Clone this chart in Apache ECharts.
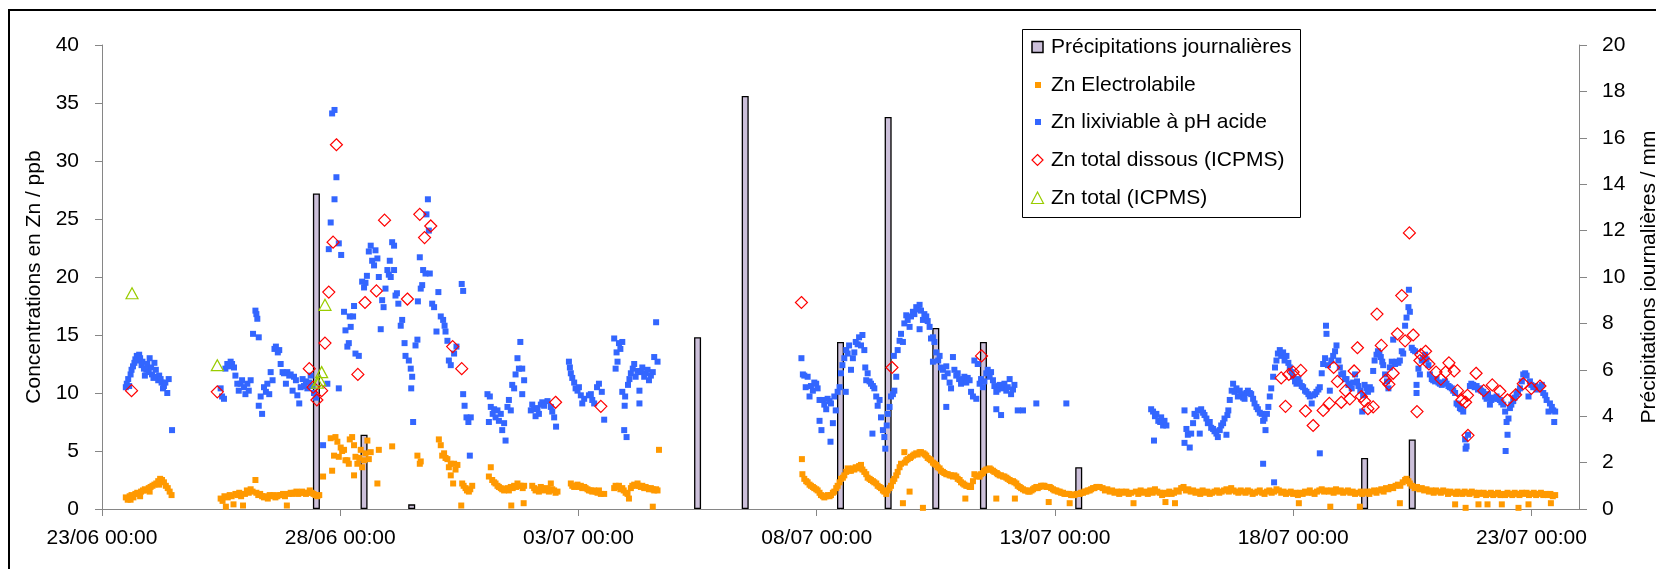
<!DOCTYPE html>
<html>
<head>
    <meta charset="utf-8">
    <title>Zn</title>
    <script src="https://cdn.jsdelivr.net/npm/echarts/dist/echarts.min.js"></script>
    <style>
        html, body { margin: 0; padding: 0; background: #fff; }
        #main { width: 1656px; height: 569px; }
    </style>
</head>
<body>
<div id="main"></div>
<script>
    // x = jours depuis le 23/06 00:00
    var xTickLabels = ['23/06 00:00', '28/06 00:00', '03/07 00:00', '08/07 00:00',
        '13/07 00:00', '18/07 00:00', '23/07 00:00'];

    // précipitations journalières (mm), barre centrée à midi
    var precipDays = [4.5, 5.5, 6.5, 12.5, 13.5, 15.5, 16.5, 17.5, 18.5, 20.5, 26.5, 27.5];
    var precipMm = [13.6, 3.2, 0.2, 7.4, 17.8, 7.2, 16.9, 7.8, 7.2, 1.8, 2.2, 3.0];

    // Zn Electrolabile [jour, ppb]
    var elecData = [
        [0.50,1.0],[0.54,0.8],[0.58,1.1],[0.62,1.2],[0.66,1.0],[0.70,1.3],[0.74,1.4],[0.78,1.3],[0.82,1.5],[0.86,1.6],
        [0.90,1.7],[0.94,1.6],[0.98,1.8],[1.02,1.9],[1.06,2.0],[1.10,2.1],[1.14,2.2],[1.18,2.4],[1.22,2.6],[1.26,2.5],
        [1.30,2.3],[1.34,2.0],[1.38,1.8],[1.42,1.5],[1.46,1.2],[0.60,0.8],[0.80,1.1],[1.00,1.5],[1.20,2.1],
        [2.49,0.9],[2.53,0.7],[2.57,1.1],[2.60,0.2],[2.64,1.0],[2.68,1.2],[2.72,1.1],[2.76,0.4],[2.80,1.3],[2.84,1.2],
        [2.88,1.4],[2.92,1.1],[2.96,0.3],[3.00,1.3],[3.04,1.6],[3.08,1.4],[3.12,1.7],[3.16,1.5],[3.22,2.5],[3.24,1.4],
        [3.28,1.2],[3.32,1.3],[3.36,1.1],[3.40,1.0],[3.44,1.1],[3.48,0.9],[3.52,1.2],[3.56,1.1],[3.60,1.2],[3.64,1.0],
        [3.68,1.1],[3.72,1.2],[3.76,1.2],[3.80,1.3],[3.84,1.1],[3.88,0.3],[3.92,1.3],[3.96,1.4],[4.00,1.3],[4.04,1.4],
        [4.08,1.5],[4.12,1.3],[4.16,1.4],[4.20,1.5],[4.24,1.4],[4.28,1.3],[4.32,1.4],[4.36,1.6],[4.40,1.4],[4.44,1.3],
        [4.48,1.2],[4.52,1.1],[4.56,1.2],
        [4.64,2.8],[4.80,6.1],[4.83,3.3],[4.87,4.6],[4.90,6.2],[4.94,5.8],[4.97,4.5],[5.01,5.3],[5.04,5.0],[5.08,5.1],
        [5.11,4.2],[5.15,4.2],[5.18,3.9],[5.20,6.0],[5.25,6.2],[5.29,5.5],[5.29,2.9],[5.32,4.5],[5.36,3.9],[5.40,4.4],
        [5.43,5.1],[5.46,3.6],[5.50,4.2],[5.53,4.8],[5.57,5.9],[5.60,4.3],[5.64,4.9],[5.78,2.2],[5.81,5.1],[6.09,5.4],
        [6.62,4.6],[6.67,3.9],[6.69,4.1],[7.07,6.0],[7.11,5.5],[7.14,4.6],[7.18,4.8],[7.21,4.4],[7.25,4.3],[7.28,3.6],
        [7.32,3.9],[7.32,2.9],[7.37,2.2],[7.39,3.9],[7.42,3.4],[7.46,3.8],[7.54,0.3],[7.56,2.2],[7.59,2.0],[7.63,1.8],
        [7.66,1.6],[7.70,1.5],[7.73,1.7],[7.77,2.0],
        [8.12,2.8],[8.16,3.6],[8.19,2.5],[8.23,2.3],[8.26,2.2],[8.30,2.0],[8.33,1.9],[8.37,1.8],[8.40,1.7],[8.44,1.6],
        [8.47,1.7],[8.51,1.8],[8.54,1.6],[8.58,1.9],[8.59,0.3],[8.62,1.8],[8.65,2.0],[8.69,1.9],[8.72,2.2],[8.76,2.0],
        [8.79,2.0],[8.83,1.8],[8.85,0.5],[8.86,2.0],[9.03,2.0],[9.07,1.8],[9.10,1.6],[9.14,1.7],[9.17,1.5],[9.21,1.9],
        [9.24,1.8],[9.28,1.6],[9.31,1.7],[9.35,1.8],[9.38,1.5],[9.42,2.2],[9.45,1.7],[9.49,1.6],[9.52,1.4],[9.56,1.5],
        [9.84,2.2],[9.87,2.0],[9.91,1.9],[9.94,2.0],[9.98,2.1],[10.01,1.9],[10.05,2.0],[10.08,1.8],[10.12,1.9],[10.15,1.8],
        [10.19,1.7],[10.22,1.6],[10.26,1.6],[10.29,1.5],[10.33,1.6],[10.36,1.5],[10.40,1.4],[10.43,1.6],[10.47,1.3],[10.54,1.3],
        [10.75,1.8],[10.78,2.0],[10.81,1.9],[10.85,2.0],[10.88,1.7],[10.92,1.8],[10.95,1.6],[10.99,1.4],[11.03,1.3],[11.06,0.9],
        [11.10,1.8],[11.13,2.0],[11.17,2.1],[11.20,2.0],[11.24,2.2],[11.27,2.0],[11.31,1.9],[11.34,2.0],[11.38,1.8],[11.41,1.9],
        [11.45,1.8],[11.48,1.7],[11.52,1.8],[11.56,1.7],[11.56,0.2],[11.59,1.6],[11.63,1.7],[11.66,1.6],[11.69,5.1],
        [14.69,4.3],[14.70,3.0],[14.74,2.6],[14.78,2.4],[14.81,2.3],[14.85,2.1],[14.88,2.0],[14.92,1.9],[14.95,1.8],[14.99,1.7],
        [15.02,1.6],[15.06,1.4],[15.09,1.2],[15.13,1.1],[15.16,1.0],[15.20,1.1],[15.23,1.2],[15.27,1.1],[15.30,1.2],[15.34,1.4],
        [15.37,1.5],[15.41,1.8],[15.44,2.0],[15.48,2.3],[15.51,2.6],[15.55,2.7],[15.58,2.9],[15.62,3.2],[15.65,3.5],[15.69,3.3],
        [15.72,3.3],[15.76,3.5],[15.79,3.4],[15.82,3.6],[15.86,3.5],[15.89,3.7],[15.93,3.8],[15.96,3.4],[16.00,3.2],[16.04,3.0],
        [16.07,2.7],[16.11,2.6],[16.14,2.5],[16.18,2.4],[16.21,2.3],[16.25,2.2],[16.28,2.0],[16.32,1.9],[16.35,1.8],[16.39,1.6],
        [16.42,1.5],[16.46,1.3],[16.49,1.6],[16.53,1.8],[16.56,2.0],[16.60,2.4],[16.63,2.6],[16.67,2.9],[16.70,3.2],[16.74,3.6],
        [16.77,3.9],[16.81,0.5],[16.84,4.9],[16.85,4.0],[16.88,4.2],[16.91,4.3],[16.95,1.5],[16.96,4.4],[16.98,4.5],[17.02,4.6],
        [17.05,4.7],[17.09,4.8],[17.12,4.7],[17.16,4.9],[17.19,4.9],[17.23,0.1],[17.24,4.8],[17.27,4.7],[17.30,4.6],[17.33,4.4],
        [17.37,4.3],[17.40,4.2],[17.44,4.0],[17.47,3.9],[17.51,3.8],[17.54,3.6],[17.58,3.5],[17.61,3.3],[17.65,3.2],[17.68,3.1],
        [17.72,3.0],[17.75,3.0],[17.79,2.9],[17.82,2.9],[17.86,2.8],[17.89,2.9],[17.93,2.8],[17.96,2.6],[18.00,2.5],[18.03,2.3],
        [18.07,2.2],[18.10,2.1],[18.12,0.9],[18.14,2.0],[18.17,2.0],[18.21,1.9],[18.24,1.9],[18.28,2.4],[18.31,3.0],[18.35,2.9],
        [18.38,2.8],[18.42,2.8],[18.45,3.0],[18.49,3.1],[18.52,3.3],[18.56,3.4],[18.59,3.4],[18.63,3.5],[18.66,3.4],[18.70,3.3],
        [18.73,3.2],[18.77,0.9],[18.78,3.1],[18.80,3.0],[18.84,2.9],[18.87,2.9],[18.91,2.8],[18.94,2.8],[18.98,2.7],[19.01,2.6],
        [19.05,2.5],[19.08,2.4],[19.12,2.4],[19.15,2.3],[19.16,0.9],[19.19,2.2],[19.22,2.0],[19.26,1.9],[19.29,1.8],[19.33,1.7],
        [19.37,1.6],[19.40,1.6],[19.44,1.5],[19.47,1.5],[19.51,1.6],[19.54,1.7],[19.57,1.8],[19.61,1.9],[19.64,1.8],[19.68,1.9],
        [19.71,2.0],[19.75,2.0],[19.78,2.0],[19.82,1.9],[19.85,1.9],[19.87,0.6],[19.89,1.9],[19.92,1.8],[19.96,1.7],[19.99,1.6],
        [20.03,1.6],[20.06,1.5],[20.10,1.5],[20.13,1.4],[20.17,1.4],[20.20,1.3],[20.24,1.3],[20.27,1.3],[20.31,1.3],[20.31,0.5],
        [20.34,1.2],[20.38,1.2],[20.41,1.2],[20.45,1.3],[20.48,1.3],[20.52,1.3],[20.55,1.4],[20.59,1.4],[20.62,1.5],[20.66,1.5],
        [20.69,1.6],[20.73,1.6],[20.76,1.7],[20.80,1.8],[20.83,1.8],[20.87,1.9],[20.90,1.9],[20.94,1.9],
        [21.00,1.8],[21.05,1.6],[21.10,1.7],[21.15,1.5],[21.20,1.6],[21.25,1.4],[21.30,1.5],[21.35,1.3],[21.40,1.5],[21.45,1.4],
        [21.50,1.5],[21.55,1.3],[21.60,1.4],[21.65,0.5],[21.70,1.5],[21.75,1.3],[21.80,1.6],[21.85,1.4],[21.90,1.5],[21.95,1.3],
        [22.00,1.6],[22.05,1.4],[22.10,1.7],[22.15,1.5],[22.20,1.4],[22.25,1.2],[22.30,1.4],[22.32,0.6],[22.35,1.3],[22.40,1.5],
        [22.45,1.3],[22.50,1.4],[22.52,0.5],[22.55,1.6],[22.60,1.5],[22.65,1.8],[22.70,1.9],[22.75,1.6],[22.80,1.7],[22.85,1.5],
        [22.90,1.6],[22.95,1.4],[23.00,1.5],[23.05,1.3],[23.10,1.6],[23.15,1.4],[23.20,1.5],[23.25,1.3],[23.30,1.4],[23.35,1.5],
        [23.40,1.6],[23.45,1.4],[23.50,1.5],[23.55,1.6],[23.60,1.7],[23.65,1.5],[23.70,1.8],[23.75,1.6],[23.80,1.5],[23.85,1.4],
        [23.90,1.6],[23.95,1.5],[24.00,1.4],[24.05,1.6],[24.10,1.5],[24.15,1.3],[24.20,1.4],[24.25,1.5],[24.30,1.6],[24.35,1.4],
        [24.40,1.3],[24.45,1.5],[24.50,1.6],[24.55,1.4],[24.60,1.5],[24.65,1.7],[24.70,1.6],[24.75,1.4],[24.80,1.5],[24.85,1.3],
        [24.90,1.4],[24.95,1.5],[25.00,1.3],[25.05,1.4],[25.10,1.2],[25.12,0.5],[25.15,1.4],[25.20,1.3],[25.25,1.5],[25.30,1.4],
        [25.35,1.6],[25.40,1.4],[25.45,1.3],[25.50,1.5],[25.55,1.6],[25.60,1.7],[25.65,1.5],[25.70,1.6],[25.75,1.5],[25.78,0.2],
        [25.80,1.6],[25.85,1.4],[25.90,1.7],[25.95,1.5],[26.00,1.6],[26.05,1.4],[26.10,1.5],[26.15,1.6],[26.20,1.4],[26.25,1.5],
        [26.30,1.3],[26.35,1.4],[26.40,0.2],[26.42,1.5],[26.45,1.3],[26.50,1.4],[26.55,1.5],[26.60,1.3],[26.65,1.5],[26.70,1.6],
        [26.75,1.4],[26.80,1.6],[26.85,1.7],[26.90,1.5],[26.95,1.8],[27.00,1.7],[27.05,1.9],[27.10,1.8],[27.15,2.0],[27.20,2.1],
        [27.24,0.5],[27.25,2.0],[27.30,2.3],[27.35,2.5],[27.38,2.6],[27.42,2.4],[27.45,2.2],[27.50,2.0],[27.55,1.8],[27.60,1.9],
        [27.65,1.7],[27.70,1.8],[27.75,1.6],[27.80,1.7],[27.85,1.5],[27.90,1.6],[27.95,1.4],[28.00,1.6],[28.05,1.5],[28.10,1.4],
        [28.15,1.6],[28.20,1.5],[28.25,1.3],[28.30,1.5],[28.35,1.4],[28.40,0.4],[28.42,1.3],[28.45,1.5],[28.50,1.4],[28.55,1.3],
        [28.60,1.5],[28.62,0.1],[28.65,1.4],[28.70,1.3],[28.75,1.5],[28.80,1.4],[28.85,1.2],[28.89,0.4],[28.90,1.4],[28.95,1.3],
        [29.00,1.4],[29.05,1.2],[29.08,0.4],[29.10,1.3],[29.15,1.4],[29.20,1.2],[29.25,1.3],[29.30,1.4],[29.35,1.2],[29.38,0.4],
        [29.40,1.3],[29.45,1.2],[29.50,1.4],[29.55,1.3],[29.60,1.2],[29.65,1.4],[29.70,1.3],[29.73,0.1],[29.75,1.2],[29.80,1.4],
        [29.85,1.3],[29.90,1.4],[29.94,0.4],[29.95,1.2],[30.00,1.3],[30.05,1.4],[30.10,1.2],[30.15,1.3],[30.20,1.4],[30.25,1.2],
        [30.30,1.3],[30.35,1.2],[30.40,1.3],[30.41,0.5],[30.45,1.1],[30.50,1.2]
    ];

    // Zn lixiviable à pH acide [jour, ppb]
    var lixData = [
        [0.50,10.5],[0.52,10.8],[0.55,11.2],[0.57,10.6],[0.60,11.6],[0.62,12.0],[0.65,12.3],[0.68,12.6],[0.70,12.9],[0.73,13.2],
        [0.75,12.8],[0.78,13.3],[0.80,13.0],[0.83,12.4],[0.85,12.7],[0.88,12.1],[0.90,11.5],[0.93,12.0],[0.95,12.5],[0.98,11.8],
        [1.00,13.0],[1.03,12.2],[1.05,11.6],[1.08,11.3],[1.10,12.6],[1.13,12.0],[1.15,11.4],[1.18,11.1],[1.20,11.5],[1.23,11.2],
        [1.25,10.9],[1.28,10.4],[1.30,10.6],[1.33,10.9],[1.37,10.0],[1.40,11.2],[1.47,6.8],
        [2.49,10.4],[2.52,9.7],[2.56,9.5],[2.59,12.1],[2.63,12.5],[2.66,12.3],[2.70,12.7],[2.73,12.5],[2.77,12.2],[2.80,11.5],
        [2.84,10.8],[2.87,10.2],[2.91,10.8],[2.94,11.1],[2.98,10.5],[3.01,9.9],[3.05,10.8],[3.08,10.2],[3.12,11.1],[3.17,15.1],
        [3.22,17.1],[3.24,16.8],[3.26,16.4],[3.29,14.8],[3.29,8.9],[3.33,9.7],[3.36,8.2],[3.40,10.5],[3.44,10.1],[3.47,10.8],
        [3.51,9.9],[3.54,11.8],[3.58,11.1],[3.62,13.8],[3.65,14.0],[3.69,13.5],[3.72,13.7],[3.75,12.5],[3.79,11.8],[3.82,11.7],
        [3.86,10.8],[3.89,11.8],[3.93,11.5],[3.96,11.6],[4.00,10.2],[4.03,11.4],[4.07,11.1],[4.10,9.8],[4.14,9.1],[4.17,10.5],
        [4.21,11.2],[4.24,10.6],[4.28,11.0],[4.31,10.4],[4.35,10.9],[4.38,11.5],[4.42,10.6],[4.45,10.0],[4.49,9.6],[4.64,5.5],
        [4.73,10.8],[4.76,22.4],[4.80,24.7],[4.83,34.1],[4.88,34.4],[4.88,26.7],[4.92,28.6],[4.97,22.9],[4.97,10.4],[5.02,21.9],
        [5.08,17.0],[5.11,15.4],[5.15,14.0],[5.18,14.3],[5.20,16.6],[5.22,15.7],[5.27,16.6],[5.29,17.5],[5.32,13.4],[5.39,13.2],
        [5.46,19.6],[5.50,19.1],[5.53,19.5],[5.56,20.1],[5.60,22.2],[5.64,22.7],[5.67,21.4],[5.71,21.0],[5.74,22.3],[5.78,21.6],
        [5.81,20.0],[5.85,15.5],[5.88,18.0],[5.91,17.4],[5.95,19.0],[5.99,20.6],[6.02,20.2],[6.04,21.4],[6.06,20.0],[6.09,23.0],
        [6.13,22.7],[6.13,20.6],[6.16,18.4],[6.19,18.6],[6.22,17.7],[6.27,15.8],[6.30,16.3],[6.35,14.3],[6.37,13.2],[6.44,12.8],
        [6.48,12.1],[6.49,10.4],[6.51,11.4],[6.53,7.5],[6.58,14.1],[6.62,14.6],[6.63,17.9],[6.67,21.7],[6.69,19.0],[6.72,19.3],
        [6.74,20.6],[6.79,20.3],[6.81,25.4],[6.84,26.7],[6.86,24.0],[6.88,20.3],[6.93,17.7],[6.97,17.4],[7.02,15.3],[7.06,18.7],
        [7.11,16.6],[7.16,16.3],[7.19,15.8],[7.21,15.3],[7.25,14.5],[7.28,12.8],[7.32,12.4],[7.39,13.4],[7.44,14.0],[7.55,19.4],
        [7.58,18.8],[7.58,9.9],[7.61,8.9],[7.65,7.9],[7.69,7.5],[7.72,4.6],[7.74,7.9],
        [8.09,9.9],[8.12,7.5],[8.14,9.7],[8.16,8.8],[8.20,8.2],[8.23,8.6],[8.26,7.9],[8.30,8.5],[8.33,7.6],[8.37,8.2],
        [8.40,6.8],[8.44,7.4],[8.47,5.9],[8.51,8.8],[8.54,9.4],[8.58,8.5],[8.61,10.7],[8.65,10.4],[8.68,11.6],[8.72,13.0],
        [8.75,12.1],[8.78,14.4],[8.82,12.1],[8.82,9.9],[8.86,11.1],[9.00,8.5],[9.03,9.0],[9.07,8.6],[9.10,8.0],[9.14,8.7],
        [9.17,8.2],[9.21,9.0],[9.24,9.2],[9.28,8.9],[9.35,9.3],[9.42,8.8],[9.45,8.4],[9.49,7.9],[9.53,7.1],[9.80,12.7],
        [9.82,12.2],[9.84,11.7],[9.87,11.3],[9.91,10.9],[9.94,10.4],[9.98,10.2],[10.01,10.5],[10.05,9.8],[10.08,9.1],[10.12,9.5],
        [10.22,9.8],[10.26,9.9],[10.29,9.4],[10.33,9.1],[10.39,10.5],[10.43,10.8],[10.49,10.1],[10.54,7.7],[10.75,14.7],[10.78,12.1],
        [10.80,13.5],[10.82,12.7],[10.85,14.3],[10.88,13.8],[10.92,14.4],[10.92,10.1],[10.96,6.8],[10.97,8.9],[10.98,9.7],[11.01,6.2],
        [11.04,10.7],[11.07,11.2],[11.10,11.7],[11.14,12.1],[11.17,12.5],[11.20,11.4],[11.24,11.9],[11.28,10.2],[11.28,9.1],[11.31,11.8],
        [11.34,12.2],[11.38,11.4],[11.41,11.7],[11.45,12.0],[11.48,11.1],[11.52,11.5],[11.56,11.8],[11.59,13.1],[11.63,16.1],[11.66,12.7],
        [14.68,13.0],[14.71,11.6],[14.74,11.5],[14.77,10.5],[14.81,11.4],[14.85,9.7],[14.88,10.6],[14.92,10.2],[14.95,10.9],[14.99,10.8],
        [15.02,10.4],[15.06,9.4],[15.06,7.6],[15.10,6.8],[15.13,9.4],[15.16,9.0],[15.20,8.6],[15.23,9.5],[15.27,9.3],[15.29,5.8],
        [15.30,9.1],[15.34,7.4],[15.37,9.7],[15.40,8.5],[15.44,10.1],[15.48,10.5],[15.51,11.7],[15.54,12.4],[15.58,13.0],[15.61,10.1],
        [15.62,13.7],[15.65,13.4],[15.68,14.1],[15.72,12.0],[15.76,13.0],[15.79,13.5],[15.82,14.4],[15.86,14.2],[15.89,14.8],[15.93,14.1],
        [15.96,15.0],[16.00,13.7],[16.02,12.2],[16.04,11.1],[16.07,11.7],[16.11,11.0],[16.14,10.8],[16.17,6.5],[16.18,10.6],[16.21,10.4],
        [16.25,9.7],[16.28,8.9],[16.32,9.4],[16.35,7.9],[16.39,6.8],[16.42,6.2],[16.44,5.2],[16.47,7.2],[16.49,8.2],[16.53,8.8],
        [16.56,9.7],[16.60,9.9],[16.62,13.2],[16.63,10.2],[16.67,11.4],[16.70,13.7],[16.74,14.5],[16.77,15.1],[16.81,14.4],[16.84,16.0],
        [16.88,16.7],[16.91,16.3],[16.95,15.7],[16.98,16.6],[17.02,17.0],[17.05,16.8],[17.09,17.4],[17.12,17.2],[17.16,17.6],[17.16,15.5],
        [17.19,17.1],[17.23,16.3],[17.26,16.8],[17.30,16.6],[17.33,16.2],[17.37,15.7],[17.40,14.7],[17.44,14.8],[17.44,12.7],[17.47,14.4],
        [17.51,13.5],[17.55,12.8],[17.58,13.2],[17.61,12.2],[17.65,12.0],[17.68,11.4],[17.72,8.8],[17.72,12.3],[17.75,11.7],[17.79,10.9],
        [17.82,10.4],[17.86,13.1],[17.89,12.0],[17.93,11.5],[17.96,11.7],[17.99,11.2],[18.03,10.8],[18.06,11.0],[18.10,11.4],[18.14,10.9],
        [18.17,11.3],[18.21,11.1],[18.24,10.1],[18.28,9.7],[18.31,12.8],[18.35,9.5],[18.38,12.5],[18.42,10.8],[18.45,11.2],[18.49,10.5],
        [18.52,11.0],[18.56,11.7],[18.59,12.0],[18.63,11.4],[18.66,11.8],[18.70,11.1],[18.73,10.6],[18.77,10.1],[18.77,8.6],[18.80,10.3],
        [18.84,10.7],[18.87,8.1],[18.91,10.4],[18.94,10.8],[18.98,10.2],[19.01,10.5],[19.05,11.2],[19.08,9.9],[19.12,10.3],[19.15,10.7],
        [19.22,8.5],[19.33,8.5],[19.61,9.1],[20.24,9.1],
        [22.02,8.6],[22.06,8.4],[22.08,5.9],[22.10,8.0],[22.13,8.2],[22.17,7.6],[22.21,7.5],[22.23,7.9],[22.27,7.2],[22.30,7.6],
        [22.34,7.2],[22.72,8.5],[22.72,5.7],[22.76,6.9],[22.79,6.4],[22.83,5.3],[22.86,6.5],[22.90,7.4],[22.93,8.2],[22.97,8.0],
        [23.00,8.5],[23.04,6.5],[23.07,8.6],[23.11,8.3],[23.14,8.1],[23.18,7.8],[23.21,7.4],[23.25,7.5],[23.28,7.0],[23.32,6.9],
        [23.35,6.7],[23.39,6.5],[23.42,6.2],[23.46,6.8],[23.49,7.2],[23.53,7.4],[23.56,7.8],[23.60,6.4],[23.62,8.1],[23.64,8.5],
        [23.67,9.4],[23.71,10.2],[23.74,10.8],[23.77,10.1],[23.81,10.4],[23.84,9.7],[23.88,10.2],[23.91,9.9],[23.95,9.6],[23.98,9.5],
        [24.02,10.0],[24.05,10.2],[24.09,10.0],[24.12,9.9],[24.16,9.5],[24.19,9.1],[24.23,8.8],[24.26,8.6],[24.30,8.3],[24.34,8.2],
        [24.37,3.9],[24.37,7.6],[24.40,7.8],[24.42,6.8],[24.45,8.2],[24.48,8.8],[24.51,9.7],[24.54,10.4],[24.58,11.4],[24.60,2.3],
        [24.62,12.2],[24.65,12.8],[24.68,13.4],[24.72,13.7],[24.75,13.2],[24.79,13.5],[24.82,12.8],[24.86,13.2],[24.90,12.6],[24.93,12.2],
        [24.97,11.8],[25.00,11.4],[25.04,11.0],[25.07,10.8],[25.11,11.2],[25.14,10.9],[25.18,10.6],[25.21,10.5],[25.25,10.2],[25.28,10.1],
        [25.32,9.9],[25.35,9.7],[25.39,9.1],[25.42,9.8],[25.46,9.9],[25.49,10.1],[25.53,10.3],[25.56,10.5],[25.56,4.8],[25.60,11.7],
        [25.63,12.5],[25.67,13.0],[25.69,15.8],[25.70,15.1],[25.73,12.4],[25.77,10.2],[25.80,12.8],[25.84,13.2],[25.88,13.6],[25.91,14.1],
        [25.95,12.8],[25.98,12.2],[26.01,11.6],[26.05,11.7],[26.09,11.2],[26.12,11.2],[26.16,10.7],[26.19,10.8],[26.23,10.4],[26.26,10.9],
        [26.30,11.6],[26.34,11.0],[26.37,10.6],[26.41,10.2],[26.45,8.4],[26.47,9.8],[26.50,10.7],[26.54,10.4],[26.57,10.1],[26.61,10.5],
        [26.64,10.3],[26.68,11.9],[26.71,12.8],[26.75,13.3],[26.78,13.6],[26.81,13.4],[26.84,13.1],[26.87,12.7],[26.89,12.4],[26.93,11.6],
        [26.97,11.0],[27.00,10.4],[27.03,12.2],[27.07,12.7],[27.10,14.6],[27.14,12.5],[27.17,12.7],[27.21,12.6],[27.24,12.8],[27.28,13.6],
        [27.31,13.4],[27.35,15.8],[27.38,16.5],[27.42,17.4],[27.43,18.9],[27.45,17.0],[27.49,13.9],[27.52,13.7],[27.56,13.6],[27.59,10.7],
        [27.59,10.0],[27.63,12.1],[27.66,11.6],[27.70,12.8],[27.73,13.0],[27.77,13.3],[27.80,12.9],[27.84,12.4],[27.87,11.6],[27.91,11.2],
        [27.94,11.1],[27.98,11.0],[28.01,11.2],[28.05,10.9],[28.08,10.8],[28.12,10.7],[28.15,10.9],[28.19,11.0],[28.22,10.8],[28.26,10.6],
        [28.29,10.5],[28.33,10.4],[28.36,10.2],[28.40,10.0],[28.43,9.1],[28.46,9.0],[28.50,8.7],[28.53,8.6],[28.57,8.4],[28.61,6.0],
        [28.62,5.2],[28.64,5.4],[28.67,6.4],[28.71,10.6],[28.74,10.8],[28.78,10.7],[28.81,10.5],[28.85,10.6],[28.88,10.3],[28.92,10.4],
        [28.95,10.2],[28.99,10.1],[29.03,9.7],[29.06,9.5],[29.09,9.9],[29.13,9.0],[29.16,9.4],[29.20,9.6],[29.23,9.5],[29.27,9.7],
        [29.30,9.5],[29.34,9.4],[29.37,9.2],[29.41,9.0],[29.45,8.4],[29.46,5.0],[29.48,7.5],[29.50,6.4],[29.52,7.8],[29.55,8.7],
        [29.58,9.0],[29.62,9.3],[29.65,9.6],[29.69,9.9],[29.72,10.1],[29.76,10.4],[29.80,11.0],[29.83,11.6],[29.87,11.7],[29.90,11.5],
        [29.94,9.7],[29.97,11.0],[30.00,10.7],[30.04,10.5],[30.08,10.6],[30.11,10.3],[30.15,10.4],[30.18,10.5],[30.22,10.7],[30.25,10.0],
        [30.29,9.8],[30.32,9.4],[30.36,8.4],[30.39,9.1],[30.43,8.8],[30.46,8.5],[30.48,7.5],[30.50,8.4]
    ];

    // Zn total dissous (ICPMS)
    var dissousData = [
        [0.62,10.2],[2.42,10.1],[4.35,12.1],[4.43,10.5],[4.51,9.4],[4.61,10.2],[4.68,14.3],[4.76,18.7],[4.85,23.0],[4.92,31.4],
        [5.37,11.6],[5.52,17.8],[5.76,18.8],[5.93,24.9],[6.41,18.1],[6.67,25.4],[6.77,23.4],[6.90,24.4],[7.36,14.0],[7.55,12.1],
        [9.52,9.2],[10.47,8.85],[14.68,17.8],[16.58,12.2],[18.46,13.2],
        [24.75,11.3],[24.84,8.85],[24.91,11.6],[25.00,11.8],[25.16,11.95],[25.26,8.45],[25.42,7.2],[25.63,8.5],[25.76,9.1],[25.85,12.2],
        [25.93,11.0],[26.01,9.2],[26.10,10.2],[26.19,9.5],[26.28,11.9],[26.35,13.9],[26.43,9.7],[26.50,9.3],[26.57,8.65],[26.68,8.8],
        [26.76,16.8],[26.85,14.1],[26.94,11.1],[27.01,10.75],[27.10,11.7],[27.19,15.1],[27.28,18.4],[27.35,14.5],[27.44,23.8],[27.52,15.0],
        [27.60,8.4],[27.66,12.8],[27.68,13.3],[27.78,13.6],[27.85,12.5],[28.00,11.8],[28.10,11.2],[28.20,11.8],[28.27,12.6],[28.38,11.9],
        [28.45,10.2],[28.54,9.4],[28.62,9.2],[28.66,9.8],[28.67,6.35],[28.84,11.7],[29.00,10.2],[29.18,10.7],[29.34,10.15],[29.50,9.4],
        [29.67,9.85],[29.83,10.8],[30.00,10.4],[30.18,10.6]
    ];

    // Zn total (ICPMS)
    var totalData = [[0.63,18.6],[2.42,12.4],[4.52,10.9],[4.57,11.1],[4.61,11.8],[4.68,17.6]];

    var legendNames = ['Précipitations journalières', 'Zn Electrolabile', 'Zn lixiviable à pH acide',
        'Zn total dissous (ICPMS)', 'Zn total (ICPMS)'];

    var FONT = 'Liberation Sans';
    var precipBars = precipDays.map(function (d, i) { return [d, precipMm[i]]; });

    var chart = echarts.init(document.getElementById('main'), null, {renderer: 'canvas'});

    // légende dessinée à la main (cadre + symboles)
    var lg = {x: 1022, y: 29, w: 278, h: 188, rows: [47, 85, 122, 160, 198], ix: 1037.5, tx: 1051};
    var legendGraphics = [
        {type: 'rect', shape: {x: lg.x + 0.5, y: lg.y + 0.5, width: lg.w, height: lg.h},
            style: {fill: '#fff', stroke: '#000', lineWidth: 1}, z: 100},
        {type: 'rect', shape: {x: 1032, y: lg.rows[0] - 5.5, width: 11, height: 11},
            style: {fill: '#ccc0da', stroke: '#000', lineWidth: 1.5}, z: 101},
        {type: 'rect', shape: {x: 1035, y: lg.rows[1] - 3, width: 6, height: 6},
            style: {fill: '#ff9900'}, z: 101},
        {type: 'rect', shape: {x: 1035, y: lg.rows[2] - 3, width: 6, height: 6},
            style: {fill: '#3366ff'}, z: 101},
        {type: 'polygon', shape: {points: [[lg.ix, lg.rows[3] - 5.5], [lg.ix + 5.5, lg.rows[3]], [lg.ix, lg.rows[3] + 5.5], [lg.ix - 5.5, lg.rows[3]]]},
            style: {fill: 'none', stroke: '#ff0000', lineWidth: 1.2}, z: 101},
        {type: 'polygon', shape: {points: [[lg.ix, lg.rows[4] - 6], [lg.ix + 6, lg.rows[4] + 5.5], [lg.ix - 6, lg.rows[4] + 5.5]]},
            style: {fill: 'none', stroke: '#99cc00', lineWidth: 1.2}, z: 101}
    ];
    legendNames.forEach(function (name, i) {
        legendGraphics.push({
            type: 'text', x: lg.tx, y: lg.rows[i], z: 101,
            style: {text: name, fill: '#000', font: '21px "' + FONT + '"', textVerticalAlign: 'middle'}
        });
    });
    // cadre extérieur du graphique
    legendGraphics.push({type: 'rect', shape: {x: 9, y: 10, width: 1700, height: 620},
        style: {fill: 'none', stroke: '#000', lineWidth: 2}, z: 0, silent: true});

    var axisLineStyle = {color: '#868686', width: 1};

    var option = {
        animation: false,
        backgroundColor: '#fff',
        textStyle: {fontFamily: FONT},
        grid: {left: 102, right: 77, top: 45, bottom: 60, containLabel: false, outerBoundsMode: 'none'},
        xAxis: {
            type: 'value', min: 0, max: 31, interval: 5,
            axisLine: {show: true, lineStyle: axisLineStyle},
            axisTick: {show: true, length: 7, inside: false, lineStyle: axisLineStyle},
            splitLine: {show: false},
            axisLabel: {
                margin: 19, color: '#000', fontSize: 21, fontFamily: FONT, showMaxLabel: false,
                formatter: function (v) { return xTickLabels[Math.round(v / 5)] || ''; }
            }
        },
        yAxis: [{
            type: 'value', min: 0, max: 40, interval: 5, position: 'left',
            name: 'Concentrations en Zn / ppb', nameLocation: 'middle', nameRotate: 90, nameGap: 55,
            nameTextStyle: {color: '#000', fontSize: 21, fontFamily: FONT},
            axisLine: {show: true, lineStyle: axisLineStyle},
            axisTick: {show: true, length: 7, lineStyle: axisLineStyle},
            splitLine: {show: false},
            axisLabel: {margin: 23, color: '#000', fontSize: 21, fontFamily: FONT}
        }, {
            type: 'value', min: 0, max: 20, interval: 2, position: 'right',
            name: 'Précipitations journalières / mm', nameLocation: 'middle', nameRotate: 90, nameGap: 60,
            nameTextStyle: {color: '#000', fontSize: 21, fontFamily: FONT},
            axisLine: {show: true, lineStyle: axisLineStyle},
            axisTick: {show: true, length: 8, lineStyle: axisLineStyle},
            splitLine: {show: false},
            axisLabel: {margin: 23, color: '#000', fontSize: 21, fontFamily: FONT}
        }],
        graphic: legendGraphics,
        series: [{
            name: legendNames[0], type: 'bar', yAxisIndex: 1, data: precipBars, barWidth: 7,
            itemStyle: {color: '#ccc0da', borderColor: '#000', borderWidth: 1.3}
        }, {
            name: legendNames[1], type: 'scatter', data: elecData, symbol: 'rect', symbolSize: 6,
            itemStyle: {color: '#ff9900', opacity: 1}
        }, {
            name: legendNames[2], type: 'scatter', data: lixData, symbol: 'rect', symbolSize: 6,
            itemStyle: {color: '#3366ff', opacity: 1}
        }, {
            name: legendNames[3], type: 'scatter', data: dissousData, symbol: 'diamond', symbolSize: [12, 12],
            itemStyle: {color: 'rgba(255,255,255,0)', borderColor: '#ff0000', borderWidth: 1.2, opacity: 1}
        }, {
            name: legendNames[4], type: 'scatter', data: totalData, symbol: 'triangle', symbolSize: [12, 11],
            itemStyle: {color: 'rgba(255,255,255,0)', borderColor: '#99cc00', borderWidth: 1.2, opacity: 1}
        }]
    };

    option && chart.setOption(option);
</script>
</body>
</html>
